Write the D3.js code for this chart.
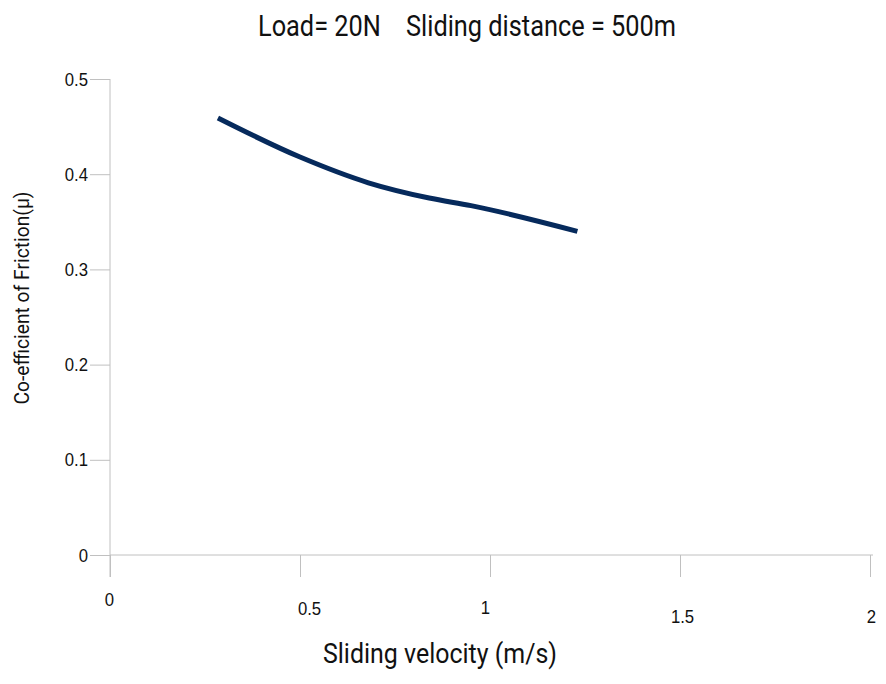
<!DOCTYPE html>
<html>
<head>
<meta charset="utf-8">
<script src="https://cdn.jsdelivr.net/npm/d3@7"></script>
<style>
  html, body { margin: 0; padding: 0; background: #fff; }
  svg { display: block; font-family: Roboto, "Liberation Sans", sans-serif; }
</style>
</head>
<body>
<svg id="chart" width="886" height="684"></svg>
<script>
// ---- data ----
const titleText = "Load= 20N\u00a0\u00a0\u00a0\u00a0Sliding distance = 500m";
const xTitle = "Sliding velocity (m/s)";
const yTitle = "Co-efficient of Friction(\u03bc)";
const velocity = [0.284, 0.5, 0.68, 0.84, 0.95, 1.23];
const friction = [0.459, 0.418, 0.391, 0.375, 0.367, 0.340];
const xTicks = [0, 0.5, 1, 1.5, 2];
const xTickLabels = ["0", "0.5", "1", "1.5", "2"];
const yTicks = [0, 0.1, 0.2, 0.3, 0.4, 0.5];
const yTickLabels = ["0", "0.1", "0.2", "0.3", "0.4", "0.5"];

// ---- layout ----
const svg = d3.select("#chart");
const x = d3.scaleLinear().domain([0, 2]).range([110, 870]);
const y = d3.scaleLinear().domain([0, 0.5]).range([555, 79]);
const axisColor = "#c0c0c0";
const textColor = "#111";

// title
svg.append("text").attr("x", 467).attr("y", 36).attr("text-anchor", "middle")
  .attr("font-size", 30).attr("fill", textColor)
  .attr("textLength", 418).attr("lengthAdjust", "spacingAndGlyphs").text(titleText);

// y axis
const gy = svg.append("g").attr("transform", "translate(110,0)")
  .call(d3.axisLeft(y).tickValues(yTicks).tickFormat((d, i) => yTickLabels[i]).tickSize(20).tickPadding(2));
gy.select(".domain").remove();
gy.selectAll(".tick line").attr("stroke", axisColor);
gy.selectAll(".tick text").attr("font-size", 19).attr("fill", textColor).attr("font-family", null)
  .attr("transform", "scale(0.88,1)").attr("x", -22 / 0.88);
svg.append("line").attr("x1", 110).attr("x2", 110).attr("y1", y(0.5)).attr("y2", y(0) + 22)
  .attr("stroke", axisColor);

// x axis
const labelShift = [[-1, 0], [9, 9], [-5, 8], [2, 17], [1, 17]];
const gx = svg.append("g").attr("transform", "translate(0,555)")
  .call(d3.axisBottom(x).tickValues(xTicks).tickFormat((d, i) => xTickLabels[i]).tickSize(22).tickPadding(16));
gx.select(".domain").remove();
gx.selectAll(".tick line").attr("stroke", axisColor);
gx.selectAll(".tick text").attr("font-size", 19).attr("fill", textColor).attr("font-family", null)
  .attr("transform", (d, i) => `translate(${labelShift[i][0]},${labelShift[i][1]}) scale(0.88,1)`);
svg.append("line").attr("x1", x(0)).attr("x2", x(2) + 3).attr("y1", 555).attr("y2", 555)
  .attr("stroke", axisColor);

// axis titles
svg.append("text").attr("x", 440).attr("y", 663).attr("text-anchor", "middle")
  .attr("font-size", 28).attr("fill", textColor)
  .attr("textLength", 234).attr("lengthAdjust", "spacingAndGlyphs").text(xTitle);
svg.append("text").attr("transform", "translate(29,298) rotate(-90)").attr("text-anchor", "middle")
  .attr("font-size", 21).attr("fill", textColor)
  .attr("textLength", 213).attr("lengthAdjust", "spacingAndGlyphs").text(yTitle);

// line
const pts = velocity.map((v, i) => [v, friction[i]]);
svg.append("path").datum(pts)
  .attr("fill", "none").attr("stroke", "#062a5c").attr("stroke-width", 5)
  .attr("d", d3.line().x(d => x(d[0])).y(d => y(d[1])).curve(d3.curveMonotoneX));
</script>
</body>
</html>
